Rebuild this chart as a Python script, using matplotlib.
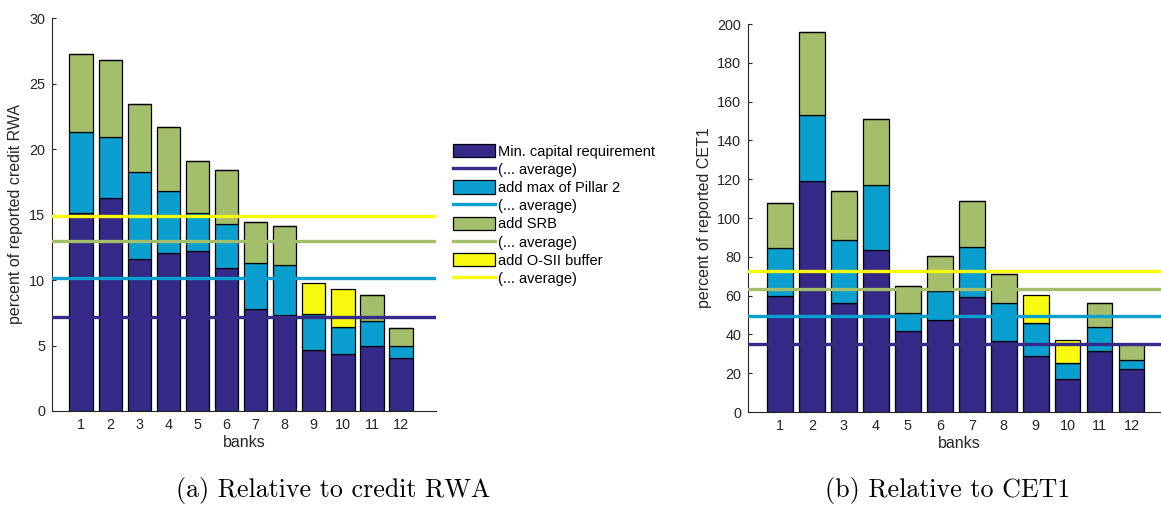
import numpy as np
from matplotlib import pyplot as plt
from matplotlib.patches import Patch
from matplotlib.lines import Line2D

plt.rcParams['font.family'] = ['Liberation Sans', 'DejaVu Sans']

banks = np.arange(1, 13)

# cumulative tops of each layer, relative to credit RWA (percent)
rwa_min = [15.1, 16.27, 11.59, 12.04, 12.25, 10.9, 7.77, 7.33, 4.66, 4.33, 4.94, 4.05]
rwa_p2 = [21.3, 20.93, 18.23, 16.83, 15.1, 14.26, 11.28, 11.15, 7.38, 6.39, 6.9, 4.94]
rwa_srb = [27.27, 26.76, 23.45, 21.67, 19.1, 18.36, 14.39, 14.16, 7.38, 6.39, 8.86, 6.34]
rwa_osii = [27.27, 26.76, 23.45, 21.67, 19.1, 18.36, 14.39, 14.16, 9.78, 9.35, 8.86, 6.34]
rwa_avg = [7.18, 10.16, 12.96, 14.9]

# cumulative tops relative to CET1 (percent)
cet_min = [59.7, 119.3, 56.2, 83.7, 41.6, 47.6, 59.2, 36.6, 28.7, 17.2, 31.3, 22.0]
cet_p2 = [84.3, 153.0, 88.9, 116.9, 51.1, 62.5, 85.3, 56.1, 45.7, 25.3, 43.7, 27.0]
cet_srb = [107.8, 196.0, 114.0, 150.8, 65.0, 80.3, 108.7, 71.2, 45.7, 25.3, 56.1, 35.0]
cet_osii = [107.8, 196.0, 114.0, 150.8, 65.0, 80.3, 108.7, 71.2, 60.4, 37.0, 56.1, 35.0]
cet_avg = [35.1, 49.7, 63.3, 72.9]

labels = ['Min. capital requirement', 'add max of Pillar 2', 'add SRB', 'add O-SII buffer']
colors = ['#352a87', '#0a9fcf', '#a5be6b', '#f7f90f']
axcol = '#262626'


def draw(ax, layers, avgs, ymax, ystep, ylabel):
    bottom = np.zeros(len(banks))
    for top, c in zip(layers, colors):
        top = np.array(top)
        ax.bar(banks, top - bottom, 0.8, bottom=bottom, color=c,
               edgecolor='black', linewidth=0.9, zorder=2)
        bottom = top
    for a, c in zip(avgs, colors):
        ax.axhline(a, color=c, linewidth=2.4, zorder=3)
    ax.set_xlim(0, 13.2)
    ax.set_ylim(0, ymax)
    ax.set_xticks(banks)
    ax.set_yticks(np.arange(0, ymax + 1, ystep))
    for s in ['top', 'right']:
        ax.spines[s].set_visible(False)
    for s in ['left', 'bottom']:
        ax.spines[s].set_color(axcol)
        ax.spines[s].set_linewidth(0.8)
    ax.tick_params(direction='in', length=3, width=0.8, colors=axcol,
                   labelsize=10.4, pad=5)
    ax.set_xlabel('banks', fontsize=11.5, color=axcol, labelpad=2)
    ax.set_ylabel(ylabel, fontsize=11.5, color=axcol, labelpad=4)


fig = plt.figure(figsize=(11.61, 5.07), dpi=100)
ax1 = fig.add_axes([52/1161, 96/507, 384/1161, 393/507])
ax2 = fig.add_axes([748/1161, 95/507, 13.2*31.97/1161, 388/507])

draw(ax1, [rwa_min, rwa_p2, rwa_srb, rwa_osii], rwa_avg, 30, 5,
     'percent of reported credit RWA')
draw(ax2, [cet_min, cet_p2, cet_srb, cet_osii], cet_avg, 200, 20,
     'percent of reported CET1')

handles = []
names = []
for lab, c in zip(labels, colors):
    handles.append(Patch(facecolor=c, edgecolor='black', linewidth=0.9))
    names.append(lab)
    handles.append(Line2D([], [], color=c, linewidth=2.4))
    names.append('(... average)')
fig.legend(handles, names, loc='center left', bbox_to_anchor=(453/1161, 1 - 215/507),
           frameon=False, fontsize=10.5, handlelength=2.9, handleheight=1.0,
           labelspacing=0.25, handletextpad=0.2, borderpad=0, borderaxespad=0)

fig.text(333/1161, 1 - 491/507, '(a) Relative to credit RWA', family='cmr10',
         fontsize=18.7, ha='center', va='center')
fig.text(948/1161, 1 - 491/507, '(b) Relative to CET1', family='cmr10',
         fontsize=18.7, ha='center', va='center')

fig.savefig('out.png', dpi=100)
